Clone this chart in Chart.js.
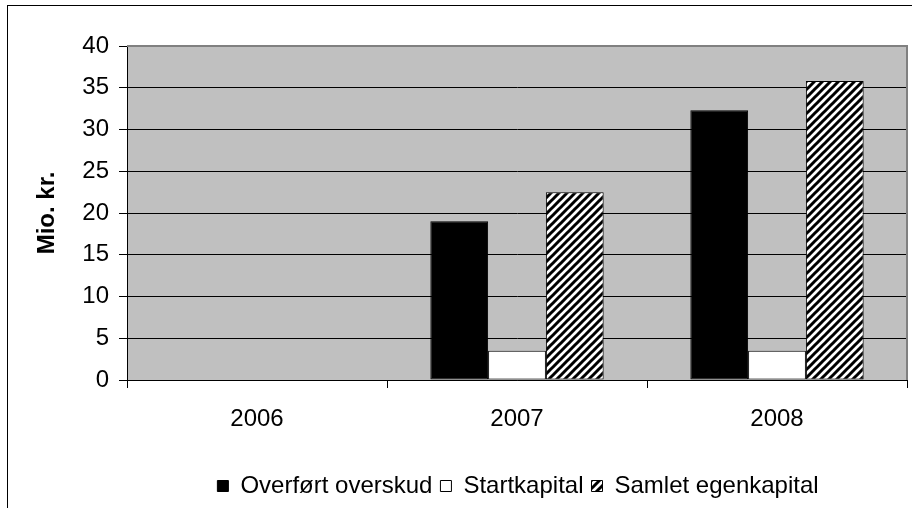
<!DOCTYPE html>
<html>
<head>
<meta charset="utf-8">
<script src="https://cdn.jsdelivr.net/npm/chart.js@4/dist/chart.umd.min.js"></script>
<style>
  html, body { margin: 0; padding: 0; background: #fff; }
  #wrap { width: 912px; height: 508px; }
</style>
</head>
<body>
<div id="wrap"><canvas id="c" width="912" height="508"></canvas></div>
<script>
// ---- data ----
const years = ['2006', '2007', '2008'];
const overfortOverskud = [0, 19.0, 32.3];
const startkapital = [0, 3.5, 3.5];
const samletEgenkapital = [0, 22.5, 35.8];
const yTicks = { min: 0, max: 40, step: 5 };
const yTitle = 'Mio. kr.';
const seriesNames = ['Overført overskud', 'Startkapital', 'Samlet egenkapital'];

// ---- styles ----
const FONT = '"Liberation Sans", Arial, sans-serif';
const FS = 24;

function makeHatch() {
  const s = 8;
  const c = document.createElement('canvas');
  c.width = s; c.height = s;
  const g = c.getContext('2d');
  g.fillStyle = '#fff';
  g.fillRect(0, 0, s, s);
  g.strokeStyle = '#000';
  g.lineWidth = 3;
  g.beginPath();
  g.moveTo(0, s); g.lineTo(s, 0);
  g.moveTo(-s / 2, s / 2); g.lineTo(s / 2, -s / 2);
  g.moveTo(s / 2, s * 1.5); g.lineTo(s * 1.5, s / 2);
  g.stroke();
  return document.getElementById('c').getContext('2d').createPattern(c, 'repeat');
}
const hatch = makeHatch();

const plotBg = {
  id: 'plotBg',
  beforeDraw(chart) {
    const { ctx, chartArea: a } = chart;
    ctx.save();
    ctx.fillStyle = '#c0c0c0';
    ctx.fillRect(a.left, a.top, a.right - a.left, a.bottom - a.top);
    ctx.restore();
  },
  beforeDatasetsDraw(chart) {
    const { ctx, chartArea: a } = chart;
    ctx.save();
    ctx.strokeStyle = '#808080';
    ctx.lineWidth = 2;
    ctx.beginPath();
    ctx.moveTo(a.left, a.top);
    ctx.lineTo(a.right, a.top);
    ctx.lineTo(a.right, a.bottom);
    ctx.stroke();
    ctx.restore();
  },
  afterDraw(chart) {
    const { ctx } = chart;
    ctx.save();
    ctx.strokeStyle = '#000';
    ctx.lineWidth = 1;
    ctx.strokeRect(7.5, 5.5, chart.width + 10, chart.height + 10);
    ctx.restore();
  }
};

const legendShift = {
  id: 'legendShift',
  afterLayout(chart) {
    const lg = chart.legend;
    if (!lg) return;
    const target = 518;
    const dx = target - (lg.left + lg.right) / 2;
    lg.left += dx; lg.right += dx;
  }
};

new Chart(document.getElementById('c'), {
  type: 'bar',
  data: {
    labels: years,
    datasets: [
      { label: seriesNames[0], data: overfortOverskud, backgroundColor: '#000', borderColor: '#000', borderWidth: 1 },
      { label: seriesNames[1], data: startkapital, backgroundColor: '#fff', borderColor: '#000', borderWidth: 1 },
      { label: seriesNames[2], data: samletEgenkapital, backgroundColor: hatch, borderColor: '#000', borderWidth: 1 }
    ]
  },
  options: {
    responsive: false,
    animation: false,
    devicePixelRatio: 1,
    layout: { padding: { left: 8, right: 5, top: 46, bottom: 0 } },
    datasets: { bar: { categoryPercentage: 3 / 4.5, barPercentage: 1, borderSkipped: false } },
    scales: {
      x: {
        grid: { display: true, drawOnChartArea: false, drawTicks: true, tickLength: 8, color: '#000', offset: true },
        border: { display: true, color: '#000', width: 1 },
        ticks: { color: '#000', font: { family: FONT, size: FS }, padding: 17, maxRotation: 0 },
        afterFit(s) { s.height = 86; }
      },
      y: {
        min: yTicks.min, max: yTicks.max,
        grid: { color: '#000', lineWidth: 1, drawTicks: true, tickLength: 8 },
        border: { display: true, color: '#000', width: 1 },
        ticks: { stepSize: yTicks.step, color: '#000', font: { family: FONT, size: FS }, padding: 10 },
        title: { display: true, text: yTitle, color: '#000', font: { family: FONT, size: FS, weight: 'bold' }, padding: { top: 25, bottom: 0 } },
        afterFit(s) { s.width = 119; }
      }
    },
    plugins: {
      legend: {
        position: 'bottom',
        labels: { color: '#000', font: { family: FONT, size: FS }, boxWidth: 11, boxHeight: 11, padding: 8 }
      },
      tooltip: { enabled: false },
      title: { display: false }
    }
  },
  plugins: [plotBg, legendShift]
});
</script>
</body>
</html>
